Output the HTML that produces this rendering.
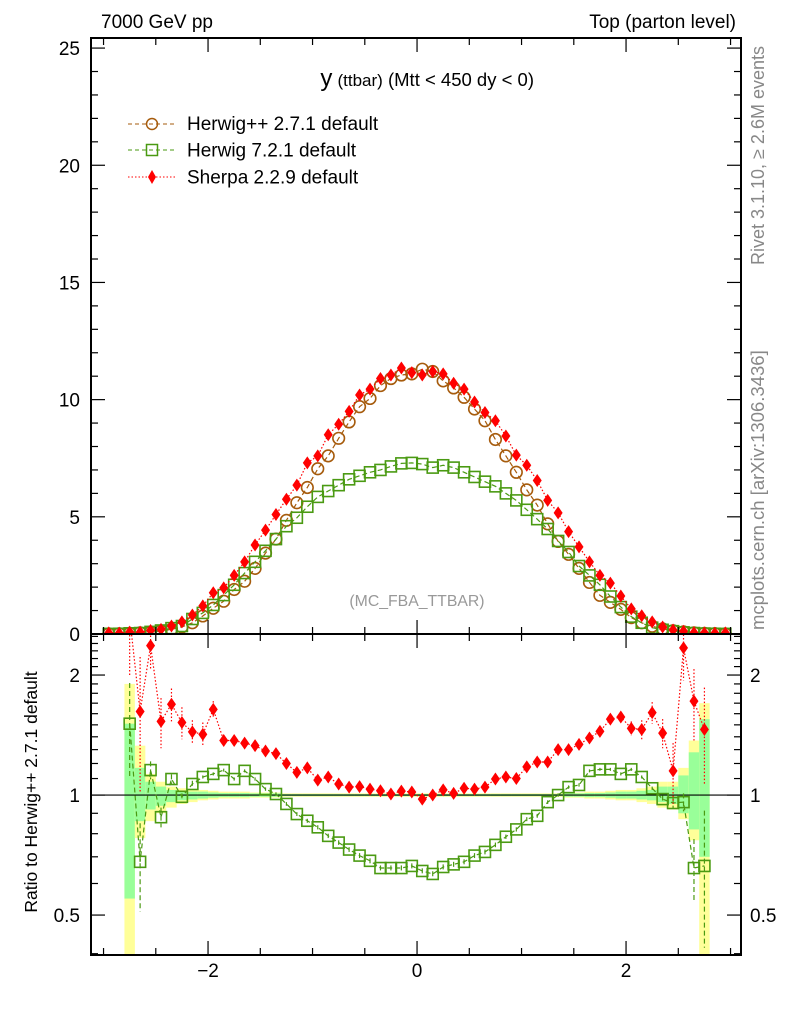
<!DOCTYPE html>
<html><head><meta charset="utf-8"><style>
html,body{margin:0;padding:0;background:#fff}
svg{display:block;font-family:"Liberation Sans",sans-serif}
</style></head><body>
<svg id="chart" width="786" height="1024" viewBox="0 0 786 1024" xmlns="http://www.w3.org/2000/svg">
<g id="bands"></g>
<g id="marks"></g>
<g id="axes"></g>
<text x="101" y="28" font-size="19">7000 GeV pp</text>
<text x="736" y="28" font-size="19" text-anchor="end">Top (parton level)</text>
<text x="534" y="86" font-size="18.5" text-anchor="end"><tspan font-size="24">y</tspan> <tspan font-size="17">(ttbar)</tspan> (Mtt &lt; 450 dy &lt; 0)</text>
<text x="417" y="606" font-size="15.8" fill="#999" text-anchor="middle">(MC_FBA_TTBAR)</text>
<text transform="translate(764,265) rotate(-90)" font-size="18" fill="#888">Rivet 3.1.10, ≥ 2.6M events</text>
<text transform="translate(764,630) rotate(-90)" font-size="18.5" fill="#888">mcplots.cern.ch [arXiv:1306.3436]</text>
<text transform="translate(37,792) rotate(-90)" font-size="17.5" text-anchor="middle">Ratio to Herwig++ 2.7.1 default</text>
<g id="legend">
 <g>
  <line x1="128" y1="124" x2="175" y2="124" stroke="#a65b0c" stroke-dasharray="4,3"/>
  <circle cx="152" cy="124" r="5.5" fill="none" stroke="#a65b0c" stroke-width="1.5"/>
  <text x="187" y="130" font-size="19">Herwig++ 2.7.1 default</text></g>
 <g>
  <line x1="128" y1="150" x2="175" y2="150" stroke="#4a9a12" stroke-dasharray="4,3"/>
  <rect x="146.5" y="144.5" width="11" height="11" fill="none" stroke="#4a9a12" stroke-width="1.5"/>
  <text x="187" y="156.5" font-size="19">Herwig 7.2.1 default</text></g>
 <g>
  <line x1="128" y1="177" x2="175" y2="177" stroke="#f00" stroke-dasharray="1.5,2"/>
  <polygon points="152,170 156,177 152,184 148,177" fill="#f00"/>
  <text x="187" y="183.5" font-size="19">Sherpa 2.2.9 default</text></g>
</g>
</svg>
<script>
// ---- data ----
const binCenters = [-2.95,-2.85,-2.75,-2.65,-2.55,-2.45,-2.35,-2.25,-2.15,-2.05,-1.95,-1.85,-1.75,-1.65,-1.55,-1.45,-1.35,-1.25,-1.15,-1.05,-0.95,-0.85,-0.75,-0.65,-0.55,-0.45,-0.35,-0.25,-0.15,-0.05,0.05,0.15,0.25,0.35,0.45,0.55,0.65,0.75,0.85,0.95,1.05,1.15,1.25,1.35,1.45,1.55,1.65,1.75,1.85,1.95,2.05,2.15,2.25,2.35,2.45,2.55,2.65,2.75,2.85,2.95];
const herwigpp = [0.005,0.01,0.03,0.05,0.08,0.13,0.2,0.3,0.48,0.77,1.1,1.4,1.9,2.25,2.8,3.45,4.05,4.85,5.6,6.25,7.05,7.6,8.35,9.05,9.7,10.05,10.6,10.9,11.05,11.1,11.3,11.2,10.8,10.5,10.1,9.6,9.1,8.3,7.6,6.9,6.15,5.5,4.7,3.95,3.4,2.8,2.2,1.65,1.35,1.05,0.7,0.48,0.33,0.22,0.14,0.09,0.05,0.03,0.015,0.005];
const herwig7 = [0.005,0.01,0.03,0.04,0.09,0.15,0.25,0.34,0.64,0.9,1.24,1.66,2.1,2.6,3.08,3.55,4.05,4.6,4.96,5.43,5.85,6.1,6.35,6.6,6.75,6.9,7.0,7.15,7.28,7.3,7.25,7.1,7.2,7.1,6.9,6.7,6.5,6.3,6.0,5.7,5.3,4.9,4.48,3.97,3.5,2.9,2.5,2.1,1.6,1.15,0.74,0.48,0.27,0.18,0.12,0.07,0.04,0.02,0.01,0.005];
const sherpa = [0.05,0.04,0.08,0.08,0.15,0.2,0.34,0.52,0.81,1.2,1.76,1.97,2.5,3.08,3.8,4.43,5.1,5.75,6.35,7.3,7.6,8.5,8.95,9.5,10.2,10.45,10.9,11.05,11.35,11.15,11.05,11.2,11.1,10.7,10.45,9.9,9.45,9.1,8.45,7.63,7.2,6.55,5.7,5.17,4.37,3.72,3.08,2.5,2.17,1.62,1.07,0.78,0.52,0.3,0.17,0.12,0.06,0.05,0.04,0.05];
const ratioCenters = [-2.75,-2.65,-2.55,-2.45,-2.35,-2.25,-2.15,-2.05,-1.95,-1.85,-1.75,-1.65,-1.55,-1.45,-1.35,-1.25,-1.15,-1.05,-0.95,-0.85,-0.75,-0.65,-0.55,-0.45,-0.35,-0.25,-0.15,-0.05,0.05,0.15,0.25,0.35,0.45,0.55,0.65,0.75,0.85,0.95,1.05,1.15,1.25,1.35,1.45,1.55,1.65,1.75,1.85,1.95,2.05,2.15,2.25,2.35,2.45,2.55,2.65,2.75];
const ratioHerwig7 = [1.51,0.68,1.155,0.88,1.097,0.99,1.066,1.11,1.13,1.155,1.097,1.15,1.097,1.035,1.006,0.95,0.896,0.862,0.83,0.79,0.76,0.73,0.705,0.684,0.656,0.656,0.656,0.664,0.645,0.634,0.66,0.67,0.68,0.705,0.72,0.75,0.786,0.82,0.87,0.887,0.96,1.0,1.047,1.06,1.15,1.16,1.16,1.13,1.16,1.11,1.04,0.977,0.955,0.96,0.656,0.664];
const ratioHerwig7Err = [0.4,0.17,0.06,0.05,0.03,0.02,0.02,0.01,0.01,0.01,0.01,0.01,0.01,0.01,0.01,0.01,0.01,0.01,0.01,0.01,0.01,0.01,0.01,0.01,0.01,0.01,0.01,0.01,0.01,0.01,0.01,0.01,0.01,0.01,0.01,0.01,0.01,0.01,0.01,0.01,0.01,0.01,0.01,0.01,0.01,0.01,0.01,0.01,0.01,0.01,0.01,0.02,0.03,0.05,0.12,0.25];
const ratioSherpa = [3.5,1.62,2.37,1.53,1.69,1.52,1.44,1.42,1.64,1.37,1.37,1.35,1.33,1.29,1.27,1.2,1.14,1.17,1.09,1.11,1.066,1.047,1.05,1.035,1.025,1.006,1.023,1.018,0.977,1.0,1.03,1.01,1.04,1.035,1.047,1.097,1.11,1.1,1.177,1.21,1.21,1.3,1.3,1.34,1.39,1.445,1.55,1.57,1.47,1.46,1.61,1.43,1.15,2.34,1.72,1.46];
const ratioSherpaErr = [1.5,0.6,0.3,0.22,0.16,0.14,0.1,0.1,0.08,0.04,0.03,0.03,0.02,0.02,0.02,0.02,0.01,0.01,0.01,0.01,0.01,0.01,0.01,0.01,0.01,0.01,0.01,0.01,0.01,0.01,0.01,0.01,0.01,0.01,0.01,0.01,0.01,0.01,0.01,0.01,0.01,0.02,0.02,0.02,0.02,0.03,0.03,0.05,0.06,0.08,0.1,0.12,0.2,0.4,0.35,0.4];
const yellowUp = [1.9,1.33,1.13,1.08,1.05,1.04,1.03,1.03,1.025,1.02,1.02,1.02,1.015,1.015,1.015,1.01,1.01,1.01,1.01,1.01,1.01,1.01,1.01,1.01,1.01,1.01,1.01,1.01,1.01,1.01,1.01,1.01,1.01,1.01,1.01,1.01,1.01,1.01,1.01,1.01,1.01,1.01,1.015,1.015,1.02,1.02,1.025,1.03,1.03,1.04,1.05,1.08,1.08,1.17,1.37,1.7];
const yellowDn = [0.3,0.78,0.86,0.9,0.93,0.95,0.96,0.97,0.975,0.98,0.98,0.98,0.985,0.985,0.985,0.99,0.99,0.99,0.99,0.99,0.99,0.99,0.99,0.99,0.99,0.99,0.99,0.99,0.99,0.99,0.99,0.99,0.99,0.99,0.99,0.99,0.99,0.99,0.99,0.99,0.99,0.99,0.985,0.985,0.98,0.98,0.975,0.97,0.97,0.96,0.95,0.93,0.92,0.87,0.77,0.3];
const greenUp = [1.51,1.17,1.08,1.05,1.03,1.025,1.02,1.02,1.015,1.012,1.012,1.012,1.01,1.01,1.01,1.006,1.006,1.006,1.006,1.006,1.006,1.006,1.006,1.006,1.006,1.006,1.006,1.006,1.006,1.006,1.006,1.006,1.006,1.006,1.006,1.006,1.006,1.006,1.006,1.006,1.006,1.006,1.01,1.01,1.012,1.012,1.015,1.02,1.02,1.025,1.03,1.05,1.05,1.12,1.28,1.55];
const greenDn = [0.55,0.86,0.92,0.94,0.96,0.97,0.975,0.98,0.985,0.988,0.988,0.988,0.99,0.99,0.99,0.994,0.994,0.994,0.994,0.994,0.994,0.994,0.994,0.994,0.994,0.994,0.994,0.994,0.994,0.994,0.994,0.994,0.994,0.994,0.994,0.994,0.994,0.994,0.994,0.994,0.994,0.994,0.99,0.99,0.988,0.988,0.985,0.98,0.98,0.975,0.97,0.96,0.95,0.9,0.82,0.7];
const mainYTicks = [0,5,10,15,20,25];
const ratioYTicks = [0.5,1,2];
const xTicks = [-2,0,2];

// ---- axes functions ----
const L=91,R=741,T=38,MB=634,RB=955;
const X0=-3.12,X1=3.10;
const sx = v => L + (v-X0)/(X1-X0)*(R-L);
const YMAX=25.43;
const sy = v => MB - v/YMAX*(MB-T);
const RMAX=2.535, RMIN=0.397;
const sr = v => { const c=Math.min(Math.max(v,RMIN*0.9),RMAX*1.1); return 634 + (Math.log(RMAX)-Math.log(c))/(Math.log(RMAX)-Math.log(RMIN))*(RB-634); };
const NS='http://www.w3.org/2000/svg';
function mk(tag, attrs, parent){const e=document.createElementNS(NS,tag);for(const k in attrs)e.setAttribute(k,attrs[k]);parent.appendChild(e);return e;}
const bands=document.getElementById('bands'), marks=document.getElementById('marks'), axes=document.getElementById('axes');
const HW=0.05;

const defs=mk('defs',{},document.getElementById('chart'));
const cm=mk('clipPath',{id:'cmain'},defs); mk('rect',{x:L,y:T,width:R-L,height:MB-T},cm);
const cr=mk('clipPath',{id:'cratio'},defs); mk('rect',{x:L,y:634,width:R-L,height:RB-634},cr);
bands.setAttribute('clip-path','url(#cratio)');

ratioCenters.forEach((c,i)=>{
  const x1=sx(c-HW), x2=sx(c+HW);
  const yb=mk('rect',{x:x1,y:sr(yellowUp[i]),width:x2-x1,height:sr(yellowDn[i])-sr(yellowUp[i]),fill:'#ffff99'},bands);
  
  
  const gb=mk('rect',{x:x1,y:sr(greenUp[i]),width:x2-x1,height:sr(greenDn[i])-sr(greenUp[i]),fill:'#99ff99'},bands);
  
  
});

function series(xs, ys, errs, fx, fy, color, dash, marker, name, clip){
  const g=mk('g',{'clip-path':clip},marks);
  
  
  const pts=xs.map((x,i)=>fx(x).toFixed(1)+','+fy(ys[i]).toFixed(1)).join(' ');
  mk('polyline',{points:pts,fill:'none',stroke:color,'stroke-width':1.2,'stroke-dasharray':dash},g);
  xs.forEach((x,i)=>{
    const cx=fx(x), cy=fy(ys[i]); let m;
    if(errs){
      const eb=mk('line',{x1:cx,x2:cx,y1:fy(ys[i]+errs[i]),y2:fy(Math.max(ys[i]-errs[i],0.01)),stroke:color,'stroke-width':1.2,'stroke-dasharray':dash},g);
      
      
    }
    if(marker==='circle') m=mk('circle',{cx,cy,r:5.8,fill:'none',stroke:color,'stroke-width':1.6},g);
    else if(marker==='square') m=mk('rect',{x:cx-5.5,y:cy-5.5,width:11,height:11,fill:'none',stroke:color,'stroke-width':1.6},g);
    else m=mk('polygon',{points:`${cx},${cy-6.5} ${cx+4.5},${cy} ${cx},${cy+6.5} ${cx-4.5},${cy}`,fill:color},g);
    
    
  });
}
series(binCenters, herwigpp, null, sx, sy, '#a65b0c','5,3','circle','herwigpp-series','url(#cmain)');
series(binCenters, herwig7, null, sx, sy, '#4a9a12','5,3','square','herwig7-series','url(#cmain)');
series(binCenters, sherpa, null, sx, sy, '#ff0000','1.5,2','diamond','sherpa-series','url(#cmain)');
const rl=mk('line',{x1:L,x2:R,y1:sr(1),y2:sr(1),stroke:'#000','stroke-width':1.2},marks);


series(ratioCenters, ratioHerwig7, ratioHerwig7Err, sx, sr, '#4a9a12','5,3','square','herwig7-ratio-series','url(#cratio)');
series(ratioCenters, ratioSherpa, ratioSherpaErr, sx, sr, '#ff0000','1.5,2','diamond','sherpa-ratio-series','url(#cratio)');

[[T,MB],[634,RB]].forEach(([t,b],k)=>{
  const f=mk('rect',{x:L,y:t,width:R-L,height:b-t,fill:'none',stroke:'#000','stroke-width':2},axes);
  
  
});
function tick(x1,y1,x2,y2){mk('line',{x1,y1,x2,y2,stroke:'#000','stroke-width':1.2},axes);}
for(let v=-3;v<=3.001;v+=0.5){
  const x=sx(v), maj=Math.abs(v%2)<1e-6;
  const len=maj?14:7;
  [[T,MB],[634,RB]].forEach(([t,b])=>{tick(x,b,x,b-len);tick(x,t,x,t+len);});
}
xTicks.forEach(v=>{
  const t=mk('text',{x:sx(v),y:977,'font-size':19,'text-anchor':'middle'},axes);
  t.textContent=(v<0?'\u2212':'')+Math.abs(v);
  
  
});
for(let v=0;v<=25;v++){const y=sy(v),len=v%5===0?14:7;tick(L,y,L+len,y);tick(R,y,R-len,y);}
mainYTicks.forEach(v=>{
  const t=mk('text',{x:80,y:sy(v)+7,'font-size':19,'text-anchor':'end'},axes);
  t.textContent=v;
  
  
});
const minor=[0.4,0.6,0.7,0.8,0.9,1.1,1.2,1.3,1.4,1.5,1.6,1.7,1.8,1.9,2.1,2.2,2.3,2.4,2.5];
minor.forEach(v=>{const y=sr(v);if(y>634&&y<RB){tick(L,y,L+7,y);tick(R,y,R-7,y);}});
ratioYTicks.forEach(v=>{
  const y=sr(v);tick(L,y,L+14,y);tick(R,y,R-14,y);
  const a=mk('text',{x:80,y:y+7,'font-size':19,'text-anchor':'end'},axes);a.textContent=v;
  
  
  const b=mk('text',{x:750,y:y+7,'font-size':19},axes);b.textContent=v;
  
  
});
</script>
</body></html>
